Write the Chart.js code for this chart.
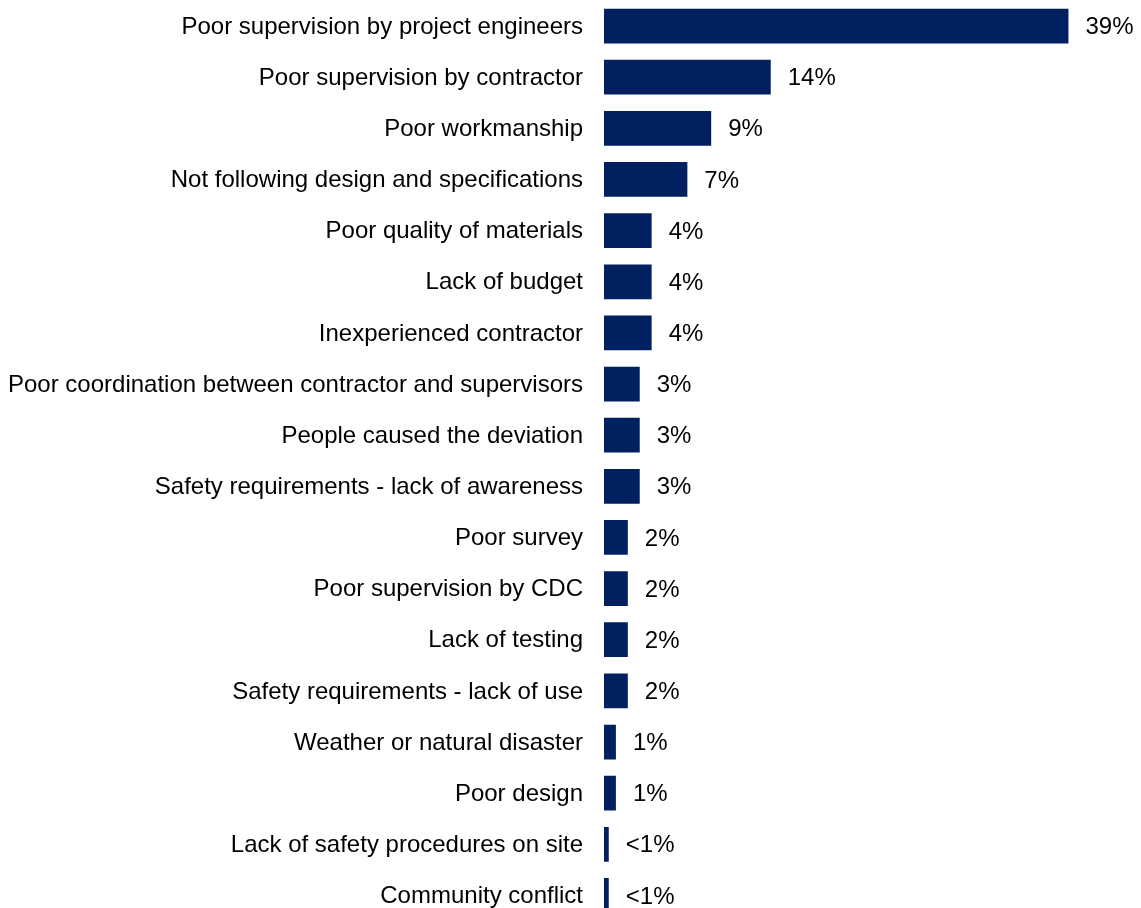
<!DOCTYPE html>
<html>
<head>
<meta charset="utf-8">
<title>Causes of deviation</title>
<script src="https://cdn.jsdelivr.net/npm/chart.js@4"></script>
<style>
  html, body { margin: 0; padding: 0; background: #fff; overflow: hidden; }
  #wrap { width: 1141px; height: 908px; overflow: hidden; }
</style>
</head>
<body>
<div id="wrap">
  <canvas id="myChart" width="1141" height="922"></canvas>
</div>
<script>
const causas = [
  'Poor supervision by project engineers',
  'Poor supervision by contractor',
  'Poor workmanship',
  'Not following design and specifications',
  'Poor quality of materials',
  'Lack of budget',
  'Inexperienced contractor',
  'Poor coordination between contractor and supervisors',
  'People caused the deviation',
  'Safety requirements - lack of awareness',
  'Poor survey',
  'Poor supervision by CDC',
  'Lack of testing',
  'Safety requirements - lack of use',
  'Weather or natural disaster',
  'Poor design',
  'Lack of safety procedures on site',
  'Community conflict'
]

// percentages, the last two are under 1%
const percentuais = [39, 14, 9, 7, 4, 4, 4, 3, 3, 3, 2, 2, 2, 2, 1, 1, 0.4, 0.4]

const rotulos = percentuais.map(v => v < 1 ? '<1%' : v + '%')

const fonte = '"Liberation Sans", Arial, Helvetica, sans-serif'

// writes the percentage next to the end of each bar
const rotuloBarras = {
  id: 'rotuloBarras',
  afterDatasetsDraw(chart) {
    const ctx = chart.ctx
    const meta = chart.getDatasetMeta(0)
    ctx.save()
    ctx.font = '24px ' + fonte
    ctx.fillStyle = '#000'
    ctx.textAlign = 'left'
    ctx.textBaseline = 'middle'
    meta.data.forEach((bar, i) => {
      ctx.fillText(rotulos[i], bar.x + 17, bar.y + 1.5)
    })
    ctx.restore()
  }
}

const ctx = document.getElementById('myChart')

new Chart(ctx, {
  type: 'bar',
  data: {
    labels: causas,
    datasets: [{
      data: percentuais,
      backgroundColor: '#002060',
      borderWidth: 0,
      categoryPercentage: 1,
      barPercentage: 0.68
    }]
  },
  options: {
    indexAxis: 'y',
    responsive: false,
    animation: false,
    layout: {
      padding: { left: 8, right: 13, top: 0.5, bottom: 1 }
    },
    scales: {
      x: {
        display: false,
        min: 0,
        max: 44
      },
      y: {
        // fixed label column, and no extra space above/below the bars
        afterFit: s => {
          s.width = 596
          s.paddingTop = 0
          s.paddingBottom = 0
        },
        grid: { display: false, drawTicks: false },
        border: { display: false },
        ticks: {
          padding: 21,
          labelOffset: 1,
          color: '#000',
          font: { family: fonte, size: 24 },
          autoSkip: false
        }
      }
    },
    plugins: {
      legend: { display: false },
      tooltip: { enabled: false }
    }
  },
  plugins: [rotuloBarras]
})
</script>
</body>
</html>
